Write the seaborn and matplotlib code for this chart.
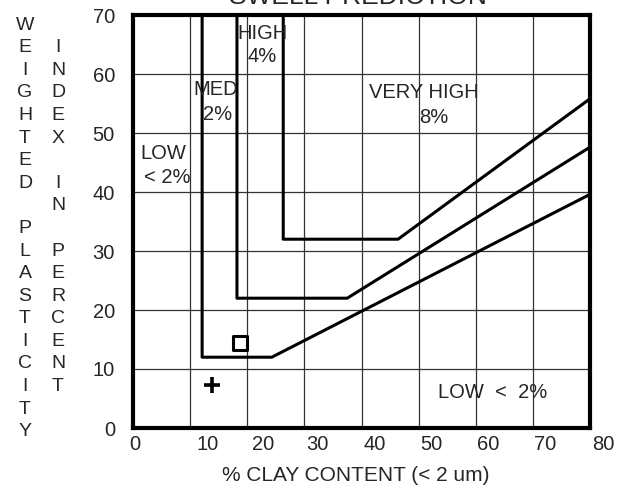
import matplotlib
matplotlib.use("Agg")
import matplotlib.pyplot as plt
import matplotlib.transforms as mtransforms
import seaborn as sns
import pandas as pd

# ---- data (x = % clay, y = weighted PI) ----
clay_low = [12.1, 12.1, 24.3, 80.0]
pi_low = [70.0, 12.0, 12.0, 39.6]
clay_med = [18.2, 18.2, 37.5, 80.0]
pi_med = [70.0, 22.0, 22.0, 47.6]
clay_high = [26.3, 26.3, 46.4, 80.0]
pi_high = [70.0, 32.0, 32.0, 55.8]
boundary_names = ["LOW/MED", "MED/HIGH", "HIGH/VERY HIGH"]

square_clay = [18.7]
square_pi = [14.4]
plus_clay = [13.8]
plus_pi = [7.3]

x_ticks = [0, 10, 20, 30, 40, 50, 60, 70, 80]
y_ticks = [0, 10, 20, 30, 40, 50, 60, 70]

zone_text = ["HIGH", "4%", "MED", "2%", "LOW", "< 2%", "VERY HIGH", "8%", "LOW  <  2%"]
zone_x = [22.6, 22.6, 14.4, 14.8, 5.3, 6.0, 51.0, 52.7, 62.9]
zone_y = [66.9, 62.9, 57.3, 53.1, 46.6, 42.5, 56.8, 52.7, 6.1]

title = "SWELL PREDICTION"
xlabel = "% CLAY CONTENT (< 2 um)"
ylabel_col1 = "WEIGHTED PLASTICITY"
ylabel_col2 = "INDEX IN PERCENT"

# ---- build long table ----
rows = []
for name, xs, ys in zip(boundary_names, [clay_low, clay_med, clay_high],
                        [pi_low, pi_med, pi_high]):
    for i, (xv, yv) in enumerate(zip(xs, ys)):
        rows.append({"boundary": name, "order": i, "clay": xv, "pi": yv})
df = pd.DataFrame(rows)

sns.set_style("white")
plt.rcParams["font.family"] = ["Liberation Sans", "DejaVu Sans"]

fig = plt.figure(figsize=(6.19, 4.94), dpi=100)
ax = fig.add_axes([133 / 619, 1 - 428 / 494, (590 - 133) / 619, (428 - 15) / 494])

sns.lineplot(data=df, x="clay", y="pi", units="boundary", estimator=None,
             sort=False, color="black", linewidth=2.2, ax=ax, legend=False)

sns.scatterplot(x=square_clay, y=square_pi, marker="s", s=110, facecolor="none",
                edgecolor="black", linewidth=2.2, ax=ax, zorder=5)
sns.scatterplot(x=plus_clay, y=plus_pi, marker="+", s=140, color="black",
                linewidth=2.6, ax=ax, zorder=5)

ax.set_xlim(0, 80)
ax.set_ylim(0, 70)
ax.set_xticks(x_ticks)
ax.set_yticks(y_ticks)
ax.set_xticklabels([str(v) for v in x_ticks], fontsize=14.5)
ax.set_yticklabels([str(v) for v in y_ticks], fontsize=14.5)
ax.tick_params(axis="both", length=0)
ax.tick_params(axis="y", pad=13)
ax.tick_params(axis="x", pad=5)
ax.grid(True, color="#333333", linewidth=0.9)
ax.set_axisbelow(True)
for s in ax.spines.values():
    s.set_visible(True)
    s.set_color("black")
    s.set_linewidth(3.0)

# x tick labels are printed slightly right of their gridlines in the reference
offsets = [2, 17, 16, 13, 13, 13, 12, 12, 13]
for lab, dx in zip(ax.get_xticklabels(), offsets):
    lab.set_transform(lab.get_transform() +
                      mtransforms.ScaledTranslation(dx / 100, 0, fig.dpi_scale_trans))

ax.set_xlabel("")
ax.set_ylabel("")
fig.text(356 / 619, 1 - 475 / 494, xlabel, ha="center", va="center", fontsize=15)

# stacked vertical y label (two columns)
line_h = 22.6
for col_text, cx, start_row in [(ylabel_col1, 25, 0), (ylabel_col2, 58, 1)]:
    for i, ch in enumerate(col_text):
        if ch == " ":
            continue
        yy = 25 + (start_row + i) * line_h
        fig.text(cx / 619, 1 - yy / 494, ch, ha="center", va="center", fontsize=14)

for t, xv, yv in zip(zone_text, zone_x, zone_y):
    ax.text(xv, yv, t, ha="center", va="center", fontsize=14.5)

# title is cropped at the top edge in the reference scan
fig.text(358 / 619, 1 - 3.5 / 494, title, ha="center", va="baseline", fontsize=19)

fig.savefig("out.png", dpi=100, facecolor="white")
